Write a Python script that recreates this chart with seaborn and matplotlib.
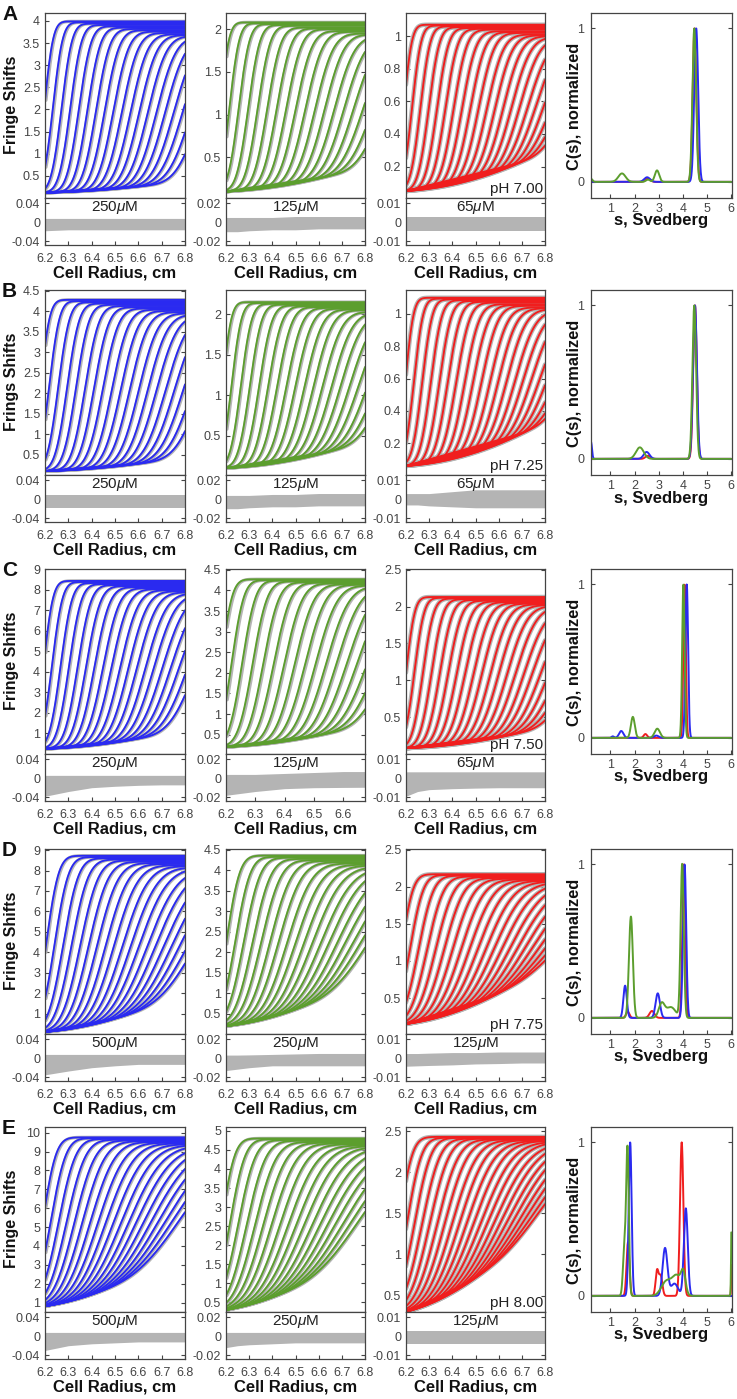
import math
import numpy as np
import pandas as pd
import matplotlib
matplotlib.use("Agg")
import matplotlib.pyplot as plt
from matplotlib.ticker import FuncFormatter
import seaborn as sns

# ---------------- data ----------------
ROWS = ['A', 'B', 'C', 'D', 'E']
YLABELS = ['Fringe Shifts', 'Frings Shifts', 'Fringe Shifts', 'Fringe Shifts', 'Fringe Shifts']
PH = ['pH 7.00', 'pH 7.25', 'pH 7.50', 'pH 7.75', 'pH 8.00']
CONC = [['250', '125', '65'], ['250', '125', '65'], ['250', '125', '65'],
        ['500', '250', '125'], ['500', '250', '125']]

# boundary midpoints (cm) and plateau heights (fringes) of each scan
A1_MID = [6.197, 6.234, 6.271, 6.308, 6.345, 6.382, 6.419, 6.456, 6.493, 6.530, 6.567, 6.604, 6.641, 6.678, 6.715, 6.752, 6.790, 6.828, 6.866]
A1_TOP = [3.99, 3.97, 3.94, 3.91, 3.88, 3.85, 3.82, 3.79, 3.76, 3.73, 3.70, 3.68, 3.66, 3.64, 3.62, 3.60, 3.58, 3.56, 3.54]
A2_MID = [6.175, 6.215, 6.255, 6.296, 6.337, 6.378, 6.419, 6.460, 6.501, 6.543, 6.585, 6.627, 6.669, 6.711, 6.753, 6.795, 6.838, 6.881]
A2_TOP = [2.08, 2.07, 2.06, 2.05, 2.04, 2.02, 2.01, 2.00, 1.98, 1.97, 1.95, 1.94, 1.92, 1.91, 1.89, 1.88, 1.87, 1.86]
A3_MID = [6.190, 6.226, 6.262, 6.298, 6.334, 6.370, 6.406, 6.442, 6.478, 6.514, 6.550, 6.586, 6.622, 6.658, 6.694, 6.730, 6.766, 6.802, 6.838, 6.874, 6.910]
A3_TOP = [1.07, 1.065, 1.06, 1.055, 1.05, 1.045, 1.04, 1.03, 1.025, 1.02, 1.01, 1.005, 1.00, 0.995, 0.99, 0.98, 0.975, 0.97, 0.965, 0.96, 0.955]

B1_MID = [6.180, 6.218, 6.257, 6.295, 6.333, 6.372, 6.410, 6.448, 6.487, 6.525, 6.563, 6.602, 6.640, 6.678, 6.717, 6.755, 6.793, 6.832, 6.870]
B1_TOP = [4.28, 4.25, 4.22, 4.19, 4.16, 4.13, 4.10, 4.07, 4.04, 4.01, 3.98, 3.95, 3.92, 3.90, 3.88, 3.86, 3.84, 3.82, 3.80]
B2_MID = [6.185, 6.224, 6.264, 6.303, 6.343, 6.382, 6.421, 6.461, 6.500, 6.540, 6.579, 6.618, 6.658, 6.697, 6.737, 6.776, 6.816, 6.855, 6.895]
B2_TOP = [2.15, 2.14, 2.13, 2.12, 2.11, 2.10, 2.09, 2.08, 2.07, 2.06, 2.05, 2.03, 2.02, 2.01, 2.00, 1.98, 1.97, 1.95, 1.93]
B3_MID = [6.197, 6.234, 6.270, 6.307, 6.344, 6.380, 6.417, 6.454, 6.490, 6.527, 6.564, 6.600, 6.637, 6.674, 6.710, 6.747, 6.784, 6.820, 6.857, 6.894, 6.930]
B3_TOP = [1.10, 1.095, 1.09, 1.085, 1.08, 1.075, 1.07, 1.06, 1.055, 1.05, 1.04, 1.035, 1.03, 1.02, 1.015, 1.01, 1.00, 0.995, 0.99, 0.985, 0.98]

C1_MID = [6.194, 6.230, 6.267, 6.303, 6.340, 6.376, 6.412, 6.449, 6.485, 6.522, 6.558, 6.594, 6.631, 6.667, 6.704, 6.740, 6.776, 6.813, 6.850]
C1_TOP = [8.42, 8.37, 8.32, 8.27, 8.22, 8.17, 8.12, 8.07, 8.02, 7.97, 7.92, 7.87, 7.82, 7.77, 7.72, 7.67, 7.62, 7.56, 7.50]
C2_MID = [6.183, 6.219, 6.255, 6.291, 6.327, 6.363, 6.399, 6.435, 6.471, 6.507, 6.543, 6.579, 6.615, 6.651, 6.687, 6.723, 6.760]
C2_TOP = [4.27, 4.25, 4.24, 4.22, 4.20, 4.19, 4.17, 4.15, 4.14, 4.12, 4.10, 4.09, 4.07, 4.05, 4.04, 4.02, 4.00]
C3_MID = [6.200, 6.236, 6.273, 6.310, 6.346, 6.382, 6.419, 6.455, 6.492, 6.528, 6.565, 6.601, 6.638, 6.674, 6.711, 6.747, 6.784, 6.820, 6.857, 6.893, 6.930]
C3_TOP = [2.13, 2.12, 2.11, 2.10, 2.09, 2.08, 2.07, 2.06, 2.05, 2.04, 2.03, 2.02, 2.01, 2.00, 1.98, 1.97, 1.96, 1.95, 1.93, 1.92, 1.90]

D1_MID = [6.205, 6.241, 6.278, 6.314, 6.351, 6.387, 6.423, 6.460, 6.496, 6.533, 6.569, 6.605, 6.642, 6.678, 6.715, 6.751, 6.787, 6.824, 6.860]
D1_TOP = [8.72, 8.66, 8.60, 8.54, 8.49, 8.43, 8.37, 8.32, 8.26, 8.21, 8.15, 8.10, 8.04, 7.99, 7.93, 7.88, 7.82, 7.76, 7.70]
D2_MID = [6.202, 6.240, 6.277, 6.315, 6.352, 6.390, 6.427, 6.465, 6.502, 6.540, 6.577, 6.615, 6.652, 6.690, 6.727, 6.765, 6.802, 6.840]
D2_TOP = [4.36, 4.33, 4.31, 4.28, 4.25, 4.23, 4.20, 4.17, 4.14, 4.12, 4.09, 4.06, 4.04, 4.01, 3.98, 3.96, 3.93, 3.90]
D3_MID = [6.180, 6.217, 6.254, 6.291, 6.328, 6.365, 6.402, 6.439, 6.476, 6.513, 6.550, 6.587, 6.624, 6.661, 6.698, 6.735, 6.772, 6.809, 6.846, 6.883, 6.920]
D3_TOP = [2.17, 2.16, 2.15, 2.14, 2.13, 2.12, 2.11, 2.10, 2.09, 2.08, 2.07, 2.06, 2.05, 2.04, 2.03, 2.02, 2.00, 1.99, 1.98, 1.97, 1.95]

E1_MID = [6.190, 6.224, 6.258, 6.292, 6.326, 6.360, 6.394, 6.428, 6.462, 6.496, 6.530, 6.564, 6.598, 6.632, 6.666, 6.700, 6.734, 6.768, 6.802]
E1_TOP = [9.75, 9.71, 9.67, 9.63, 9.59, 9.55, 9.51, 9.47, 9.43, 9.39, 9.35, 9.31, 9.27, 9.23, 9.19, 9.15, 9.11, 9.07, 9.03]
E2_MID = [6.180, 6.216, 6.252, 6.289, 6.325, 6.361, 6.397, 6.434, 6.470, 6.506, 6.542, 6.579, 6.615, 6.651, 6.687, 6.724, 6.760, 6.796]
E2_TOP = [4.80, 4.78, 4.76, 4.74, 4.71, 4.69, 4.67, 4.65, 4.62, 4.60, 4.58, 4.56, 4.53, 4.51, 4.49, 4.47, 4.44, 4.42]
E3_MID = [6.170, 6.203, 6.236, 6.269, 6.302, 6.335, 6.368, 6.401, 6.434, 6.467, 6.500, 6.533, 6.566, 6.599, 6.632, 6.665, 6.698, 6.731, 6.764, 6.797, 6.830]
E3_TOP = [2.43, 2.42, 2.42, 2.41, 2.41, 2.40, 2.40, 2.39, 2.39, 2.38, 2.38, 2.37, 2.37, 2.36, 2.36, 2.35, 2.35, 2.34, 2.34, 2.33, 2.33]

MIDS = [[A1_MID, A2_MID, A3_MID], [B1_MID, B2_MID, B3_MID], [C1_MID, C2_MID, C3_MID],
        [D1_MID, D2_MID, D3_MID], [E1_MID, E2_MID, E3_MID]]
TOPS = [[A1_TOP, A2_TOP, A3_TOP], [B1_TOP, B2_TOP, B3_TOP], [C1_TOP, C2_TOP, C3_TOP],
        [D1_TOP, D2_TOP, D3_TOP], [E1_TOP, E2_TOP, E3_TOP]]

# boundary width of first / last scan, baseline at meniscus, baseline slope of last scan
WIDTH_FIRST = [[0.030, 0.030, 0.028], [0.032, 0.030, 0.028], [0.032, 0.030, 0.030], [0.042, 0.045, 0.040], [0.045, 0.045, 0.045]]
WIDTH_LAST = [[0.080, 0.085, 0.085], [0.085, 0.090, 0.090], [0.090, 0.080, 0.095], [0.130, 0.140, 0.150], [0.160, 0.160, 0.160]]
BASE0 = [[0.12, 0.10, 0.05], [0.10, 0.10, 0.06], [0.25, 0.20, 0.08], [0.12, 0.20, 0.15], [0.80, 0.30, 0.30]]
BASE_SLOPE = [[0.35, 0.40, 0.35], [0.45, 0.45, 0.40], [1.2, 0.9, 0.40], [2.2, 1.3, 1.0], [3.0, 1.6, 1.3]]

# residual band envelopes at these radii
RES_R = [6.2, 6.25, 6.3, 6.4, 6.5, 6.6, 6.7, 6.8]
RES_UP = [
    [[0.008] * 8, [0.005, 0.005, 0.005, 0.005, 0.006, 0.006, 0.006, 0.006], [0.003] * 8],
    [[0.008] * 8, [0.004, 0.004, 0.004, 0.005, 0.005, 0.006, 0.006, 0.006], [0.003, 0.003, 0.003, 0.004, 0.005, 0.005, 0.005, 0.005]],
    [[0.006] * 8, [0.004, 0.004, 0.004, 0.005, 0.006, 0.007, 0.007, 0.007], [0.0034] * 8],
    [[0.008] * 8, [0.0033, 0.0033, 0.0035, 0.004, 0.0045, 0.005, 0.005, 0.005], [0.0025, 0.0025, 0.0027, 0.003, 0.003, 0.0033, 0.0033, 0.0033]],
    [[0.008] * 8, [0.004] * 8, [0.003] * 8],
]
RES_LO = [
    [[-0.018, -0.017, -0.016, -0.016, -0.016, -0.016, -0.016, -0.016], [-0.010, -0.010, -0.009, -0.008, -0.008, -0.007, -0.007, -0.007], [-0.0045] * 8],
    [[-0.018] * 8, [-0.010, -0.010, -0.009, -0.008, -0.008, -0.007, -0.007, -0.007], [-0.003, -0.003, -0.0035, -0.004, -0.0045, -0.0045, -0.0045, -0.0045]],
    [[-0.038, -0.033, -0.028, -0.020, -0.017, -0.015, -0.014, -0.014], [-0.018, -0.016, -0.014, -0.011, -0.010, -0.0097, -0.0095, -0.0095], [-0.0095, -0.007, -0.006, -0.0055, -0.0052, -0.005, -0.005, -0.005]],
    [[-0.035, -0.031, -0.027, -0.020, -0.016, -0.013, -0.013, -0.013], [-0.013, -0.0115, -0.010, -0.008, -0.008, -0.008, -0.008, -0.008], [-0.0042, -0.004, -0.0038, -0.0035, -0.003, -0.0028, -0.0025, -0.0025]],
    [[-0.030, -0.025, -0.020, -0.016, -0.014, -0.012, -0.012, -0.012], [-0.012, -0.010, -0.009, -0.008, -0.007, -0.007, -0.007, -0.007], [-0.004] * 8],
]

# axis ranges / ticks
XMAX = [[6.8, 6.8, 6.8], [6.8, 6.8, 6.8], [6.8, 6.675, 6.8], [6.8, 6.8, 6.8], [6.8, 6.8, 6.8]]
YLIM = [[(0.0, 4.18), (0.025, 2.19), (0.007, 1.142)],
        [(0.005, 4.52), (0.015, 2.30), (0.004, 1.148)],
        [(0.0, 9.0), (0.03, 4.52), (0.0, 2.51)],
        [(0.02, 9.05), (0.01, 4.52), (0.015, 2.51)],
        [(0.5, 10.3), (0.25, 5.1), (0.3, 2.55)]]
YTICKS = [[[0.5, 1, 1.5, 2, 2.5, 3, 3.5, 4], [0.5, 1, 1.5, 2], [0.2, 0.4, 0.6, 0.8, 1]],
          [[0.5, 1, 1.5, 2, 2.5, 3, 3.5, 4, 4.5], [0.5, 1, 1.5, 2], [0.2, 0.4, 0.6, 0.8, 1]],
          [[1, 2, 3, 4, 5, 6, 7, 8, 9], [0.5, 1, 1.5, 2, 2.5, 3, 3.5, 4, 4.5], [0.5, 1, 1.5, 2, 2.5]],
          [[1, 2, 3, 4, 5, 6, 7, 8, 9], [0.5, 1, 1.5, 2, 2.5, 3, 3.5, 4, 4.5], [0.5, 1, 1.5, 2, 2.5]],
          [[1, 2, 3, 4, 5, 6, 7, 8, 9, 10], [0.5, 1, 1.5, 2, 2.5, 3, 3.5, 4, 4.5, 5], [0.5, 1, 1.5, 2, 2.5]]]
RES_YLIM = [(-0.048, 0.051), (-0.024, 0.0255), (-0.012, 0.0128)]
RES_YTICKS = [[-0.04, 0, 0.04], [-0.02, 0, 0.02], [-0.01, 0, 0.01]]

# c(s) distributions: (s, height, sigma) of each peak
CS_A_RED = [(2.55, 0.022, 0.10), (4.48, 1.0, 0.075)]
CS_A_BLUE = [(2.52, 0.03, 0.12), (4.55, 1.0, 0.08)]
CS_A_GREEN = [(0.2, 0.02, 0.06), (1.48, 0.055, 0.15), (2.55, 0.015, 0.08), (2.93, 0.075, 0.09), (4.47, 1.0, 0.075)]
CS_B_RED = [(2.55, 0.02, 0.10), (4.5, 1.0, 0.075)]
CS_B_BLUE = [(0.2, 0.11, 0.04), (2.5, 0.045, 0.12), (4.5, 1.0, 0.08)]
CS_B_GREEN = [(2.22, 0.075, 0.16), (4.47, 1.0, 0.075)]
CS_C_RED = [(2.45, 0.025, 0.07), (4.07, 1.0, 0.05)]
CS_C_BLUE = [(1.1, 0.01, 0.05), (1.45, 0.045, 0.09), (2.9, 0.015, 0.1), (4.16, 1.0, 0.055)]
CS_C_GREEN = [(1.93, 0.137, 0.08), (2.94, 0.06, 0.11), (4.02, 1.0, 0.05)]
CS_D_RED = [(1.72, 0.04, 0.07), (2.72, 0.045, 0.1), (4.04, 1.0, 0.06)]
CS_D_BLUE = [(1.61, 0.21, 0.07), (2.96, 0.16, 0.09), (4.07, 1.0, 0.065)]
CS_D_GREEN = [(1.85, 0.66, 0.08), (3.12, 0.09, 0.12), (3.5, 0.07, 0.2), (3.97, 1.0, 0.065)]
CS_E_RED = [(1.73, 0.35, 0.06), (2.93, 0.16, 0.06), (3.08, 0.13, 0.07), (3.95, 1.0, 0.07), (6.03, 0.62, 0.02)]
CS_E_BLUE = [(1.82, 1.0, 0.06), (3.26, 0.31, 0.1), (3.65, 0.08, 0.15), (4.12, 0.57, 0.08)]
CS_E_GREEN = [(1.58, 0.3, 0.06), (1.71, 0.95, 0.055), (3.3, 0.09, 0.2), (3.75, 0.13, 0.2), (4.02, 0.12, 0.09), (6.03, 0.85, 0.025)]
CS = [[CS_A_RED, CS_A_BLUE, CS_A_GREEN], [CS_B_RED, CS_B_BLUE, CS_B_GREEN], [CS_C_RED, CS_C_BLUE, CS_C_GREEN],
      [CS_D_RED, CS_D_BLUE, CS_D_GREEN], [CS_E_RED, CS_E_BLUE, CS_E_GREEN]]

# ---------------- styling ----------------
BLUE, GREEN, RED, GRAY = '#2a2af0', '#5c9e2e', '#f01e1e', '#b4b4b4'
COLORS = [BLUE, GREEN, RED]
CS_COLORS = [RED, BLUE, GREEN]
SPINE = '#444444'
TICK_FS = 9

sns.set_theme(style="white")
plt.rcParams['font.family'] = ['Liberation Sans', 'DejaVu Sans']
plt.rcParams['mathtext.fontset'] = 'custom'
plt.rcParams['mathtext.it'] = 'Liberation Sans:italic'
plt.rcParams['mathtext.rm'] = 'Liberation Sans'

W, H = 737, 1399
fig = plt.figure(figsize=(W / 100, H / 100), dpi=100)
fig.patch.set_facecolor('white')

COL_X = [(45, 185), (226, 365), (406, 545)]
CS_X = (591, 732)
ROW_TOP = [13, 290, 569, 849, 1127]
MAIN_H, RES_H = 185, 47

fmt = FuncFormatter(lambda v, p: '%g' % v)
erf_v = np.vectorize(math.erf)


def px_axes(x0, y0, x1, y1):
    return fig.add_axes([x0 / W, 1 - y1 / H, (x1 - x0) / W, (y1 - y0) / H])


def style(ax):
    for sp in ax.spines.values():
        sp.set_color(SPINE)
        sp.set_linewidth(0.9)
        sp.set_visible(True)
    ax.set_facecolor('white')
    ax.grid(False)
    ax.set_xlabel('')
    ax.set_ylabel('')


def curves_frame(mids, tops, w0, w1, b0, k, xmax):
    r = np.linspace(6.2, xmax, 240)
    n = len(mids)
    parts = []
    for i, (m, t) in enumerate(zip(mids, tops)):
        f = i / (n - 1)
        w = w0 + (w1 - w0) * f
        base = b0 + k * f * (r - 6.2)
        v = base + (t - base) * 0.5 * (1 + erf_v((r - m) / (w * math.sqrt(2))))
        parts.append(pd.DataFrame({'r': r, 'v': v, 'scan': i}))
    return pd.concat(parts, ignore_index=True)


for ri, T in enumerate(ROW_TOP):
    for ci, (x0, x1) in enumerate(COL_X):
        xmax = XMAX[ri][ci]
        ax = px_axes(x0, T, x1, T + MAIN_H)
        df = curves_frame(MIDS[ri][ci], TOPS[ri][ci], WIDTH_FIRST[ri][ci], WIDTH_LAST[ri][ci],
                          BASE0[ri][ci], BASE_SLOPE[ri][ci], xmax)
        if ci == 2:
            halo = df
            hlw = 3.2
        else:
            halo = df.assign(r=df['r'] + 0.004)
            hlw = 2.4
        sns.lineplot(data=halo, x='r', y='v', units='scan', estimator=None, color=GRAY,
                     lw=hlw, ax=ax, legend=False, sort=False)
        sns.lineplot(data=df, x='r', y='v', units='scan', estimator=None, color=COLORS[ci],
                     lw=1.35, ax=ax, legend=False, sort=False)
        ax.set_xlim(6.2, xmax)
        ax.set_ylim(*YLIM[ri][ci])
        ax.set_yticks(YTICKS[ri][ci])
        ax.yaxis.set_major_formatter(fmt)
        style(ax)
        ax.tick_params(axis='y', direction='in', length=3, width=0.8, color=SPINE,
                       labelsize=TICK_FS, labelcolor='#444444', left=True, right=True, pad=3.5)
        ax.tick_params(axis='x', bottom=False, top=False, labelbottom=False)
        if ci == 2:
            ax.text(0.985, 0.01, PH[ri], transform=ax.transAxes, ha='right', va='bottom',
                    fontsize=11, color='#222222')

        # residuals
        rx = px_axes(x0, T + MAIN_H, x1, T + MAIN_H + RES_H)
        rr = [v for v in RES_R if v <= xmax + 1e-9]
        if rr[-1] < xmax:
            rr = rr + [xmax]
        up = np.interp(rr, RES_R, RES_UP[ri][ci])
        lo = np.interp(rr, RES_R, RES_LO[ri][ci])
        rdf = pd.DataFrame({'r': rr, 'up': up, 'lo': lo})
        rx.fill_between(rdf['r'], rdf['lo'], rdf['up'], color=GRAY, lw=0)
        rx.set_xlim(6.2, xmax)
        rx.set_ylim(*RES_YLIM[ci])
        rx.set_yticks(RES_YTICKS[ci])
        rx.set_xticks([6.2, 6.3, 6.4, 6.5, 6.6, 6.7, 6.8][:5 if xmax < 6.7 else 7])
        rx.xaxis.set_major_formatter(fmt)
        rx.yaxis.set_major_formatter(fmt)
        style(rx)
        rx.tick_params(axis='y', direction='in', length=3, width=0.8, color=SPINE,
                       labelsize=TICK_FS, labelcolor='#444444', left=True, right=True, pad=3.5)
        rx.tick_params(axis='x', direction='in', length=3, width=0.8, color=SPINE,
                       labelsize=TICK_FS, labelcolor='#444444', bottom=True, top=False, pad=5.5)
        rx.text(0.5, 0.97, CONC[ri][ci] + r'$\mathit{\mu}$M', transform=rx.transAxes,
                ha='center', va='top', fontsize=11, color='#222222')

        fig.text(((x0 + x1) / 2) / W, 1 - (T + 260) / H, 'Cell Radius, cm', ha='center',
                 va='center', fontsize=12, fontweight='bold', color='#111111')

    # c(s) panel
    cx = px_axes(CS_X[0], T, CS_X[1], T + MAIN_H)
    s = np.linspace(0.2, 6.0, 700)
    for k, peaks in enumerate(CS[ri]):
        c = np.zeros_like(s)
        for (mu, h, sg) in peaks:
            c = c + h * np.exp(-0.5 * ((s - mu) / sg) ** 2)
        sns.lineplot(x=s, y=c, color=CS_COLORS[k], lw=1.4, ax=cx, legend=False, sort=False)
    cx.set_xlim(0.2, 6.03)
    cx.set_ylim(-0.105, 1.1)
    cx.set_xticks([1, 2, 3, 4, 5, 6])
    cx.set_yticks([0, 1])
    cx.xaxis.set_major_formatter(fmt)
    cx.yaxis.set_major_formatter(fmt)
    style(cx)
    cx.tick_params(axis='y', direction='in', length=3, width=0.8, color=SPINE,
                   labelsize=TICK_FS, labelcolor='#444444', left=True, right=True, pad=5)
    cx.tick_params(axis='x', direction='in', length=3, width=0.8, color=SPINE,
                   labelsize=TICK_FS, labelcolor='#444444', bottom=True, top=False, pad=3.5)
    fig.text(575 / W, 1 - (T + 93) / H, 'C(s), normalized', rotation=90, ha='center',
             va='center', fontsize=11.8, fontweight='bold', color='#111111')
    fig.text(661 / W, 1 - (T + 208) / H, 's, Svedberg', ha='center', va='center',
             fontsize=12, fontweight='bold', color='#111111')

    # row letter and y label
    fig.text(2 / W, 1 - (T - 8) / H, ROWS[ri], ha='left', va='top', fontsize=15,
             fontweight='bold', color='#111111')
    fig.text(12 / W, 1 - (T + 92) / H, YLABELS[ri], rotation=90, ha='center', va='center',
             fontsize=11.5, fontweight='bold', color='#111111')

fig.savefig('out.png', dpi=100, facecolor='white')
